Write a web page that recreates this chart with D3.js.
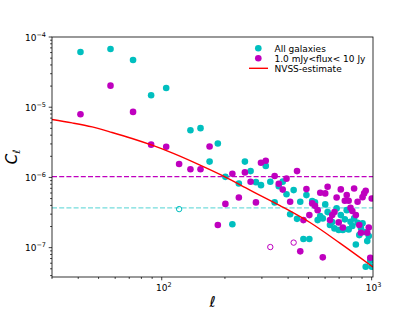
<!DOCTYPE html>
<html><head><meta charset="utf-8">
<script src="https://cdnjs.cloudflare.com/ajax/libs/d3/7.8.5/d3.min.js"></script>
<style>body{margin:0;background:#fff}svg{display:block}text{font-family:"DejaVu Sans",sans-serif}</style>
</head><body><svg id="c" width="415" height="311"></svg>
<script>
// multipole bins
const ells = [41,57,73,89,105,121,137,153,169,185,201,217,233,249,265,281,297,313,329,345,361,377,393,409,425,441,457,473,489,505,521,537,553,569,585,601,617,633,649,665,681,697,713,729,745,761,777,793,809,825,841,857,873,889,905,921,937,953,969,985,1001];
// negative values are drawn as open markers at |C_l|
const allGalaxies = [
6.12e-5,6.75e-5,4.71e-5,1.48e-5,1.88e-5,-3.54e-7,4.71e-6,5.03e-6,1.68e-6,3.05e-6,
1.02e-6,2.15e-7,8.21e-7,1.68e-6,1.23e-6,8.57e-7,7.77e-7,1.46e-6,8.66e-7,4.41e-7,
7.52e-7,8.71e-7,5.75e-7,2.99e-7,6.60e-7,2.57e-7,4.50e-7,1.33e-7,5.60e-7,1.33e-7,
4.60e-7,4.41e-7,2.47e-7,2.81e-7,2.61e-7,4.13e-7,3.21e-7,2.10e-7,2.31e-7,1.88e-7,
3.62e-7,1.78e-7,2.91e-7,1.78e-7,2.53e-7,3.42e-7,1.82e-7,2.34e-7,2.03e-7,2.61e-7,
1.11e-7,2.26e-7,1.51e-7,1.90e-7,2.22e-7,1.67e-7,5.35e-8,1.24e-7,1.46e-7,6.51e-8,
5.35e-8];
const fluxCut = [
7.95e-6,2.03e-5,8.57e-6,2.93e-6,2.74e-6,1.55e-6,1.31e-6,1.31e-6,2.76e-6,2.10e-7,
4.20e-7,1.13e-6,5.19e-7,1.18e-6,8.66e-7,4.41e-7,1.62e-6,1.73e-6,-1.02e-7,1.05e-6,
8.11e-7,6.71e-7,9.61e-7,4.50e-7,-1.18e-7,1.23e-6,8.86e-8,2.47e-7,6.82e-7,2.91e-7,
4.27e-7,3.94e-7,3.42e-7,6.04e-7,7.28e-8,5.92e-7,7.35e-7,2.47e-7,2.91e-7,3.21e-7,
5.19e-7,2.29e-7,6.75e-7,1.94e-7,4.65e-7,5.60e-7,4.65e-7,3.69e-7,3.32e-7,6.97e-7,
2.91e-7,4.50e-7,2.10e-7,1.63e-7,5.24e-7,5.92e-7,6.45e-7,1.63e-7,1.94e-7,7.18e-8,
5.02e-7];
const nvssEll = [30.0,37.4,46.6,58.0,72.2,89.9,112.0,152.2,200.2,263.3,365.9,508.5,706.3,1014.4];
const nvssCl  = [6.68e-6,5.98e-6,5.24e-6,4.37e-6,3.59e-6,2.88e-6,2.24e-6,1.50e-6,1.02e-6,6.60e-7,3.97e-7,2.28e-7,1.16e-7,5.30e-8];
const shotAll = 3.69e-7, shotFlux = 1.03e-6;
const legendLabels = ["All galaxies","1.0 mJy<flux< 10 Jy","NVSS-estimate"];
const xTicks = [100,1000], yTicks = [1e-7,1e-6,1e-5,1e-4];

const CY="#00bfbf", MG="#bf00bf", RD="#ff0000";
const L=52,R=373,T=37,B=277;
const svg=d3.select("#c");
const x=d3.scaleLog().domain([30,1015]).range([L,R]);
const y=d3.scaleLog().domain([3.82e-8,1e-4]).range([B,T]);

svg.append("clipPath").attr("id","clip").append("rect").attr("x",L).attr("y",T).attr("width",R-L).attr("height",B-T);
const g=svg.append("g").attr("clip-path","url(#clip)");

// shot noise lines
g.append("line").attr("x1",L).attr("x2",R).attr("y1",y(shotFlux)).attr("y2",y(shotFlux))
 .attr("stroke",MG).attr("stroke-width",1.3).attr("stroke-dasharray","5,2.2");
g.append("line").attr("x1",L).attr("x2",R).attr("y1",y(shotAll)).attr("y2",y(shotAll))
 .attr("stroke",CY).attr("stroke-opacity",0.55).attr("stroke-width",1.3).attr("stroke-dasharray","5,2.2");

function scatter(vals,col){
  const d=ells.map((l,i)=>({l,v:vals[i]}));
  g.selectAll(null).data(d).enter().append("circle")
   .attr("cx",p=>x(p.l)).attr("cy",p=>y(Math.abs(p.v)))
   .attr("r",p=>p.v<0?2.7:3.3)
   .attr("fill",p=>p.v<0?"none":col)
   .attr("stroke",p=>p.v<0?col:"none").attr("stroke-width",1);
}
scatter(allGalaxies,CY);
scatter(fluxCut,MG);

const line=d3.line().x((d,i)=>x(nvssEll[i])).y((d,i)=>y(nvssCl[i])).curve(d3.curveMonotoneX);
g.append("path").attr("d",line(nvssEll)).attr("fill","none").attr("stroke",RD).attr("stroke-width",1.4);

// frame
svg.append("rect").attr("x",L).attr("y",T).attr("width",R-L).attr("height",B-T)
 .attr("fill","none").attr("stroke","#000").attr("stroke-width",0.8);

// y axis ticks
const ax=svg.append("g").attr("stroke","#000").attr("stroke-width",0.75);
const yMinor=[];
[1e-8,1e-7,1e-6,1e-5].forEach(d=>{for(let k=2;k<=9;k++){const v=k*d; if(v>=3.82e-8&&v<=1e-4) yMinor.push(v);}});
yMinor.forEach(v=>ax.append("line").attr("x1",L-1.9).attr("x2",L).attr("y1",y(v)).attr("y2",y(v)));
yTicks.forEach(v=>ax.append("line").attr("x1",L-3.3).attr("x2",L).attr("y1",y(v)).attr("y2",y(v)));
const xMinor=[];
[10,100].forEach(d=>{for(let k=2;k<=9;k++){const v=k*d; if(v>=30&&v<=1015) xMinor.push(v);}});
xMinor.forEach(v=>ax.append("line").attr("y1",B).attr("y2",B+1.9).attr("x1",x(v)).attr("x2",x(v)));
xTicks.forEach(v=>ax.append("line").attr("y1",B).attr("y2",B+3.3).attr("x1",x(v)).attr("x2",x(v)));

function pow(sel,e){
  sel.append("tspan").text("10");
  sel.append("tspan").attr("dy",-4).attr("font-size",6.5).text(e);
}
yTicks.forEach(v=>{
  const e=Math.round(Math.log10(v));
  const t=svg.append("text").attr("x",L-6).attr("y",y(v)+3.5).attr("text-anchor","end").attr("font-size",9).attr("fill","#000");
  pow(t,"\u2212"+(-e));
});
xTicks.forEach(v=>{
  const e=Math.round(Math.log10(v));
  const t=svg.append("text").attr("x",x(v)+2).attr("y",B+14).attr("text-anchor","middle").attr("font-size",9).attr("fill","#000");
  pow(t,String(e));
});

// axis labels
svg.append("text").attr("x",(L+R)/2).attr("y",307).attr("text-anchor","middle").attr("font-size",15).attr("font-style","italic").text("\u2113");
const yl=svg.append("text").attr("transform",`translate(17,${(T+B)/2}) rotate(-90)`).attr("text-anchor","middle").attr("font-size",15);
yl.append("tspan").attr("font-style","italic").text("C");
yl.append("tspan").attr("font-size",10).attr("dy",3).text("\u2113");

// legend
const lg=svg.append("g");
const ly=[48.3,58.3,68.3];
lg.append("circle").attr("cx",258.3).attr("cy",ly[0]).attr("r",3.3).attr("fill",CY);
lg.append("circle").attr("cx",258.3).attr("cy",ly[1]).attr("r",3.3).attr("fill",MG);
lg.append("line").attr("x1",249).attr("x2",268).attr("y1",ly[2]).attr("y2",ly[2]).attr("stroke",RD).attr("stroke-width",1.4);
legendLabels.forEach((s,i)=>lg.append("text").attr("x",274.5).attr("y",ly[i]+3.3).attr("font-size",9).text(s));
</script></body></html>
